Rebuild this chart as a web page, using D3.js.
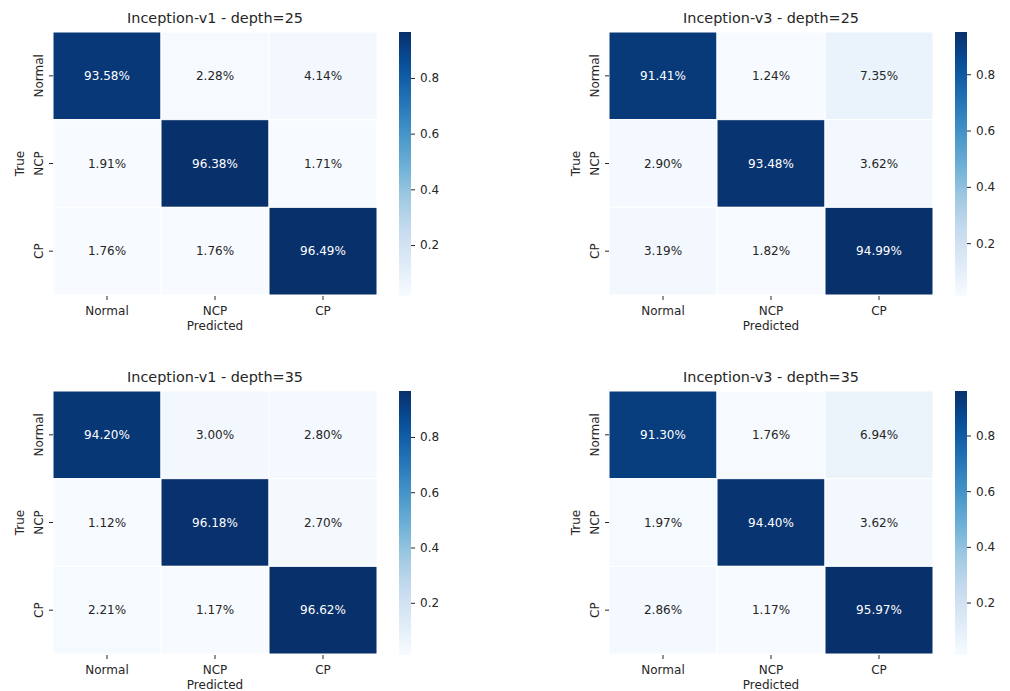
<!DOCTYPE html>
<html>
<head>
<meta charset="utf-8">
<script src="https://cdn.jsdelivr.net/npm/d3@7"></script>
<style>
  html, body { margin: 0; padding: 0; background: #ffffff; }
  svg { display: block; }
  text { font-family: "DejaVu Sans", sans-serif; fill: #262626; }
</style>
</head>
<body>
<svg id="chart" width="1010" height="691"></svg>
<script>
// Class labels shared by every confusion matrix
const classes = ["Normal", "NCP", "CP"];

// Panel titles, row-major: top-left, top-right, bottom-left, bottom-right
const titles = [
  "Inception-v1 - depth=25",
  "Inception-v3 - depth=25",
  "Inception-v1 - depth=35",
  "Inception-v3 - depth=35"
];

// Row-normalised confusion matrices (rows = true class, cols = predicted)
const v1Depth25 = [
  [0.9358, 0.0228, 0.0414],
  [0.0191, 0.9638, 0.0171],
  [0.0176, 0.0176, 0.9649]
];
const v3Depth25 = [
  [0.9141, 0.0124, 0.0735],
  [0.0290, 0.9348, 0.0362],
  [0.0319, 0.0182, 0.9499]
];
const v1Depth35 = [
  [0.9420, 0.0300, 0.0280],
  [0.0112, 0.9618, 0.0270],
  [0.0221, 0.0117, 0.9662]
];
const v3Depth35 = [
  [0.9130, 0.0176, 0.0694],
  [0.0197, 0.9440, 0.0362],
  [0.0286, 0.0117, 0.9597]
];

// Colour bar tick values
const colorbarTicks = [0.2, 0.4, 0.6, 0.8];

// Sequential "Blues" palette stops
const bluesStops = ["#f7fbff", "#deebf7", "#c6dbef", "#9ecae1", "#6baed6",
                    "#4292c6", "#2171b5", "#08519c", "#08306b"];

const matrices = [v1Depth25, v3Depth25, v1Depth35, v3Depth35];

// Layout
const panelX = [53, 609];
const panelY = [32, 391];
const mapW = 324, mapH = 263;
const cbarGap = 22, cbarW = 12;

const svg = d3.select("#chart");
const defs = svg.append("defs");
const fmt = d3.format(".2%");

matrices.forEach((m, i) => {
  const x0 = panelX[i % 2], y0 = panelY[Math.floor(i / 2)];
  const flat = m.flat();
  const vmin = d3.min(flat), vmax = d3.max(flat);

  const stopScale = d3.scaleLinear()
    .domain(bluesStops.map((_, k) => vmin + (vmax - vmin) * k / (bluesStops.length - 1)))
    .range(bluesStops)
    .interpolate(d3.interpolateRgb);

  const x = d3.scaleBand().domain(classes).range([0, mapW]);
  const y = d3.scaleBand().domain(classes).range([0, mapH]);

  const g = svg.append("g").attr("transform", `translate(${x0},${y0})`);

  // Cells
  const cells = [];
  m.forEach((row, r) => row.forEach((v, c) => cells.push({ r, c, v })));

  g.selectAll("rect.cell").data(cells).join("rect")
    .attr("class", "cell")
    .attr("x", d => x(classes[d.c]))
    .attr("y", d => y(classes[d.r]))
    .attr("width", x.bandwidth())
    .attr("height", y.bandwidth())
    .attr("fill", d => stopScale(d.v))
    .attr("stroke", "#ffffff")
    .attr("stroke-width", 1);

  g.selectAll("text.annot").data(cells).join("text")
    .attr("class", "annot")
    .attr("x", d => x(classes[d.c]) + x.bandwidth() / 2)
    .attr("y", d => y(classes[d.r]) + y.bandwidth() / 2)
    .attr("text-anchor", "middle")
    .attr("dominant-baseline", "central")
    .style("font-size", "12px")
    .style("fill", d => (d.v - vmin) / (vmax - vmin) > 0.6 ? "#ffffff" : "#262626")
    .text(d => fmt(d.v));

  // X axis
  const xAxis = g.append("g")
    .attr("transform", `translate(0,${mapH})`)
    .call(d3.axisBottom(x).tickSize(4).tickSizeOuter(0));
  xAxis.select(".domain").remove();
  xAxis.selectAll(".tick line").attr("stroke", "#262626").attr("y1", 1).attr("y2", 5);
  xAxis.selectAll(".tick text")
    .attr("y", 20).attr("dy", null)
    .style("font-size", "12px").style("font-family", "DejaVu Sans, sans-serif")
    .attr("fill", "#262626");

  g.append("text")
    .attr("x", mapW / 2).attr("y", mapH + 35)
    .attr("text-anchor", "middle")
    .style("font-size", "12px")
    .text("Predicted");

  // Y axis
  const yAxis = g.append("g").call(d3.axisLeft(y).tickSize(4).tickSizeOuter(0));
  yAxis.select(".domain").remove();
  yAxis.selectAll(".tick line").attr("stroke", "#262626");
  yAxis.selectAll(".tick text")
    .attr("x", 0).attr("y", -10).attr("dy", null)
    .attr("transform", "rotate(-90)")
    .attr("text-anchor", "middle")
    .style("font-size", "12px").style("font-family", "DejaVu Sans, sans-serif")
    .attr("fill", "#262626");

  g.append("text")
    .attr("transform", `translate(-29,${mapH / 2}) rotate(-90)`)
    .attr("text-anchor", "middle")
    .style("font-size", "12px")
    .text("True");

  // Title
  g.append("text")
    .attr("x", mapW / 2).attr("y", -9)
    .attr("text-anchor", "middle")
    .style("font-size", "14.4px")
    .text(titles[i]);

  // Colour bar
  const gradId = `cbar-grad-${i}`;
  const grad = defs.append("linearGradient")
    .attr("id", gradId)
    .attr("x1", 0).attr("y1", 1).attr("x2", 0).attr("y2", 0);
  d3.range(0, 1.0001, 0.05).forEach(t => {
    grad.append("stop")
      .attr("offset", t)
      .attr("stop-color", stopScale(vmin + t * (vmax - vmin)));
  });

  const cbX = mapW + cbarGap;
  const cb = g.append("g").attr("transform", `translate(${cbX},0)`);
  cb.append("rect")
    .attr("width", cbarW).attr("height", mapH + 1)
    .attr("fill", `url(#${gradId})`);

  const cScale = d3.scaleLinear().domain([vmin, vmax]).range([mapH + 1, 0]);
  const cAxis = cb.append("g")
    .attr("transform", `translate(${cbarW},0)`)
    .call(d3.axisRight(cScale).tickValues(colorbarTicks).tickSize(4).tickPadding(5)
      .tickFormat(d3.format(".1f")));
  cAxis.select(".domain").remove();
  cAxis.selectAll(".tick line").attr("stroke", "#262626");
  cAxis.selectAll(".tick text")
    .style("font-size", "12px").style("font-family", "DejaVu Sans, sans-serif")
    .attr("fill", "#262626");
});
</script>
</body>
</html>
